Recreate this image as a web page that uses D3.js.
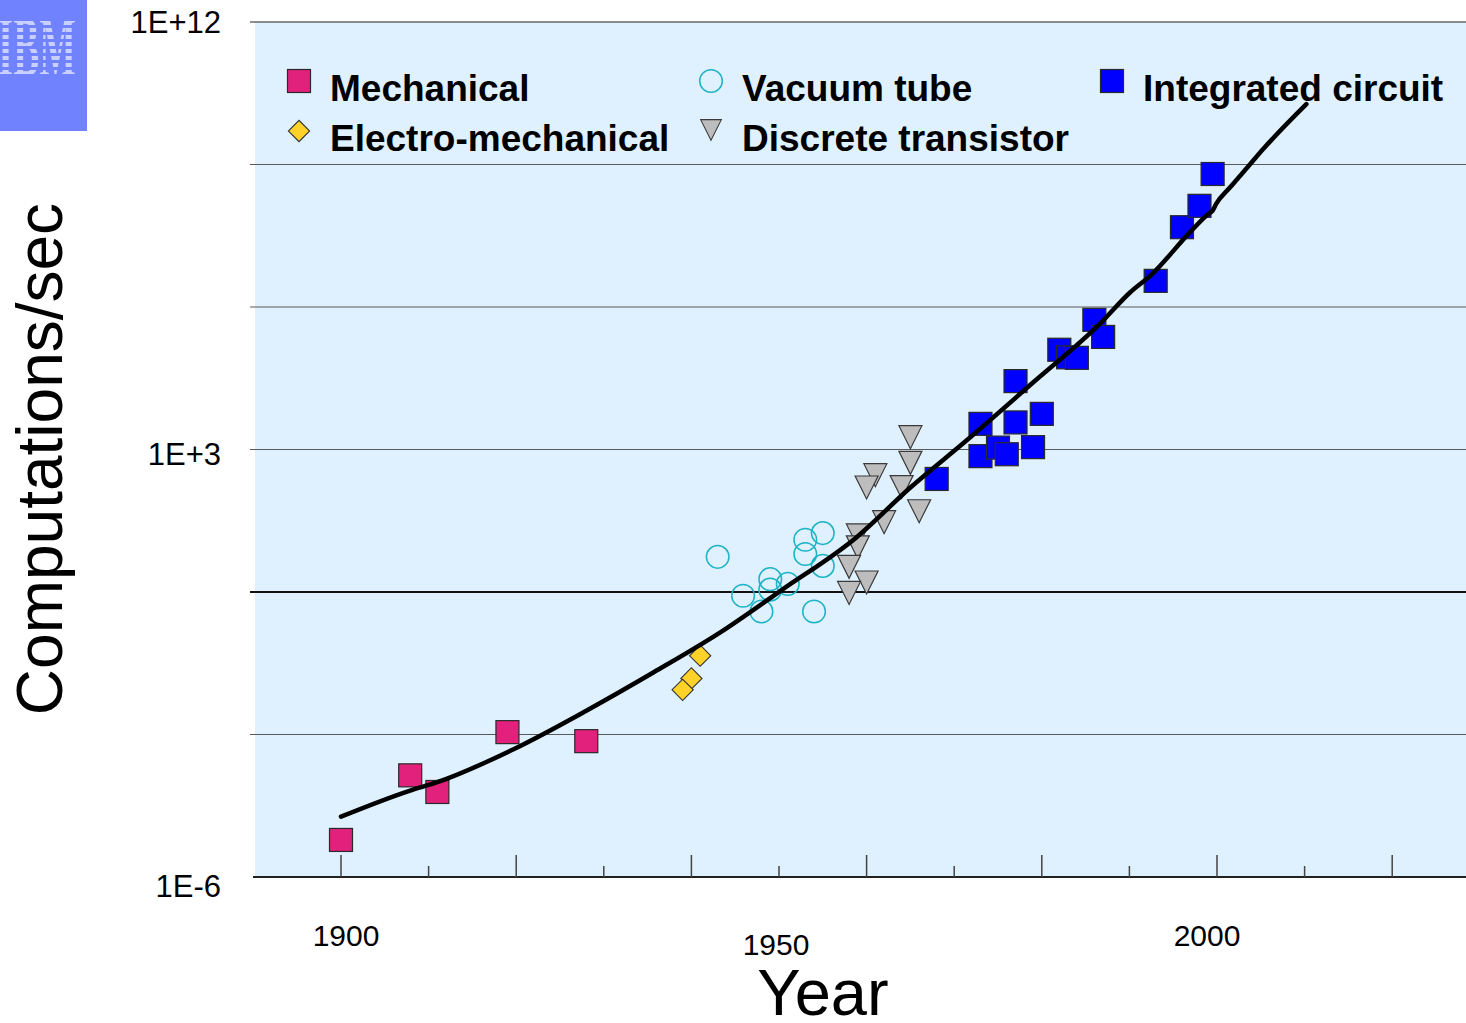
<!DOCTYPE html>
<html>
<head>
<meta charset="utf-8">
<script src="https://cdn.jsdelivr.net/npm/d3@7"></script>
<style>
  body { margin: 0; background: #fff; }
  svg { display: block; font-family: "Liberation Sans", Arial, sans-serif; }
</style>
</head>
<body>
<svg id="chart" width="1466" height="1023"></svg>
<script>
// values are log10(computations/sec)
const mechYears = [1900, 1907.9, 1911, 1919, 1928];
const mechExp = [-5.22, -3.86, -4.21, -2.95, -3.14];

const electroYears = [1941, 1940, 1939];
const electroExp = [-1.34, -1.82, -2.06];

const tubeYears = [1943, 1945.9, 1948, 1949, 1949, 1951, 1953, 1953, 1955, 1955, 1954];
const tubeExp = [0.74, -0.08, -0.41, 0.27, 0.05, 0.17, 1.10, 0.80, 1.24, 0.55, -0.41];

const transYears = [1965, 1965, 1961, 1960, 1964, 1966, 1962, 1959, 1959, 1958, 1960, 1958];
const transExp = [3.26, 2.72, 2.46, 2.20, 2.21, 1.70, 1.47, 1.19, 0.94, 0.53, 0.20, -0.02];

const icYears = [1968, 1973, 1973, 1975, 1976, 1977, 1977, 1979, 1980, 1982, 1983, 1984, 1986, 1987, 1993, 1996, 1998, 1999.5];
const icExp = [2.38, 3.54, 2.86, 3.04, 2.90, 4.44, 3.57, 3.05, 3.75, 5.10, 4.94, 4.93, 5.73, 5.37, 6.55, 7.68, 8.13, 8.80];

// trend curve
const trendYears = [1900, 1907.9, 1910.9, 1919.7, 1928, 1935.7, 1943.3, 1950.3, 1958.9, 1965, 1971.4, 1979, 1986.6, 1990.1, 1992.4, 1996.9, 1999.0, 1999.5, 1999.9, 2001.5, 2003.8, 2005.3, 2010.2];
const trendExp = [-4.73, -4.18, -4.01, -3.31, -2.50, -1.69, -0.85, 0.04, 1.16, 2.20, 3.19, 4.41, 5.64, 6.31, 6.66, 7.57, 7.96, 8.03, 8.17, 8.52, 9.01, 9.33, 10.27];

const gridExp = [-6, -3, 0, 3, 6, 9, 12];
const yLabels = [[12, "1E+12"], [3, "1E+3"], [-6, "1E-6"]];
const yLabelShift = [11, 15, 20];
const tickYears = d3.range(1900, 2021, 10);
const xLabels = [1900, 1950, 2000];
const xLabelShift = [[5, 0], [-3, 9], [-10, 0]];

const legendItems = [
  { name: "Mechanical", type: "mech", col: 0, row: 0 },
  { name: "Electro-mechanical", type: "electro", col: 0, row: 1 },
  { name: "Vacuum tube", type: "tube", col: 1, row: 0 },
  { name: "Discrete transistor", type: "trans", col: 1, row: 1 },
  { name: "Integrated circuit", type: "ic", col: 2, row: 0 }
];

const svg = d3.select("#chart");
const plotLeft = 255, plotRight = 1466, plotTop = 22, plotBottom = 877;

const x = d3.scaleLinear().domain([1900, 2000]).range([341, 1217]);
const y = d3.scaleLog().domain([1e-6, 1e12]).range([plotBottom, plotTop]);
const yv = e => y(Math.pow(10, e));

// logo block in the corner
const defs = svg.append("defs");
const pat = defs.append("pattern")
    .attr("id", "stripes")
    .attr("patternUnits", "userSpaceOnUse")
    .attr("width", 8).attr("height", 7);
pat.append("rect").attr("width", 8).attr("height", 4).attr("fill", "#c9d0ff");
svg.append("rect")
    .attr("x", 0).attr("y", 0).attr("width", 87).attr("height", 131)
    .attr("fill", "#7182ff");
svg.append("text")
    .attr("x", 37).attr("y", 76)
    .attr("text-anchor", "middle")
    .style("font-family", "'Liberation Serif', serif")
    .style("font-weight", "bold")
    .style("font-size", "86px")
    .attr("textLength", 78)
    .attr("lengthAdjust", "spacingAndGlyphs")
    .attr("fill", "url(#stripes)")
    .text("IBM");

// plot background
svg.append("rect")
    .attr("x", plotLeft).attr("y", plotTop)
    .attr("width", plotRight - plotLeft).attr("height", plotBottom - plotTop)
    .attr("fill", "#dff0fe");

// horizontal grid
svg.append("g").selectAll("line")
  .data(gridExp.filter(d => d > -6))
  .enter().append("line")
    .attr("x1", plotLeft - 5).attr("x2", plotRight)
    .attr("y1", d => yv(d)).attr("y2", d => yv(d))
    .attr("stroke", d => d === 0 ? "#111" : (d === 12 ? "#222" : "#5a5a5a"))
    .attr("stroke-width", d => d === 0 ? 2 : 1.2);

// x axis line and ticks
svg.append("line")
    .attr("x1", plotLeft - 2).attr("x2", plotRight)
    .attr("y1", plotBottom).attr("y2", plotBottom)
    .attr("stroke", "#222").attr("stroke-width", 2);

svg.append("g").selectAll("line")
  .data(tickYears)
  .enter().append("line")
    .attr("x1", d => x(d)).attr("x2", d => x(d))
    .attr("y1", d => (d % 20 === 0) ? plotBottom - 22 : plotBottom - 11)
    .attr("y2", plotBottom)
    .attr("stroke", "#444").attr("stroke-width", 1.5);

// axis labels
svg.append("g").selectAll("text")
  .data(yLabels)
  .enter().append("text")
    .attr("x", 221)
    .attr("y", (d, i) => yv(d[0]) + yLabelShift[i])
    .attr("text-anchor", "end")
    .style("font-size", "31px")
    .text(d => d[1]);

svg.append("g").selectAll("text")
  .data(xLabels)
  .enter().append("text")
    .attr("x", (d, i) => x(d) + xLabelShift[i][0])
    .attr("y", (d, i) => 946 + xLabelShift[i][1])
    .attr("text-anchor", "middle")
    .style("font-size", "30px")
    .text(d => d);

svg.append("text")
    .attr("x", 823).attr("y", 1015)
    .attr("text-anchor", "middle")
    .style("font-size", "65px")
    .text("Year");

svg.append("text")
    .attr("transform", "translate(62,459) rotate(-90)")
    .attr("text-anchor", "middle")
    .style("font-size", "64px")
    .text("Computations/sec");

// marker shapes
const sq = 23;
function drawMarker(g, type) {
  if (type === "mech" || type === "ic") {
    g.append("rect")
        .attr("x", -sq / 2).attr("y", -sq / 2)
        .attr("width", sq).attr("height", sq)
        .attr("fill", type === "mech" ? "#e2217c" : "#0000ff")
        .attr("stroke", "#2a2a2a").attr("stroke-width", 1.2);
  } else if (type === "electro") {
    g.append("rect")
        .attr("x", -7.5).attr("y", -7.5)
        .attr("width", 15).attr("height", 15)
        .attr("transform", "rotate(45)")
        .attr("fill", "#ffd22a")
        .attr("stroke", "#333").attr("stroke-width", 1.1);
  } else if (type === "tube") {
    g.append("circle")
        .attr("r", 11.3)
        .attr("fill", "none")
        .attr("stroke", "#1db4c6").attr("stroke-width", 1.5);
  } else {
    g.append("path")
        .attr("d", "M-11.5,-11.5L11.5,-11.5L0,11.5Z")
        .attr("fill", "#bdbdbd")
        .attr("stroke", "#3a3a3a").attr("stroke-width", 1.2);
  }
}

const series = [
  { type: "tube", years: tubeYears, exps: tubeExp },
  { type: "trans", years: transYears, exps: transExp },
  { type: "mech", years: mechYears, exps: mechExp },
  { type: "electro", years: electroYears, exps: electroExp },
  { type: "ic", years: icYears, exps: icExp }
];

series.forEach(function(s) {
  svg.append("g").selectAll("g")
    .data(s.years.map((yr, i) => [yr, s.exps[i]]))
    .enter().append("g")
      .attr("transform", d => "translate(" + x(d[0]) + "," + yv(d[1]) + ")")
      .each(function() { drawMarker(d3.select(this), s.type); });
});

// trend line on top of the markers
const trend = d3.line()
    .x(d => x(d[0]))
    .y(d => yv(d[1]))
    .curve(d3.curveMonotoneX);
svg.append("path")
    .datum(trendYears.map((yr, i) => [yr, trendExp[i]]))
    .attr("d", trend)
    .attr("fill", "none")
    .attr("stroke", "#000")
    .attr("stroke-width", 4.5)
    .attr("stroke-linecap", "round");

// legend
const colX = [299, 711, 1112];
const rowY = [81, 131];
const legend = svg.append("g").selectAll("g")
  .data(legendItems)
  .enter().append("g")
    .attr("transform", d => "translate(" + colX[d.col] + "," + rowY[d.row] + ")");
legend.each(function(d) {
  const g = d3.select(this).append("g");
  if (d.type === "trans") g.attr("transform", "translate(0,-1) scale(0.9)");
  drawMarker(g, d.type);
});
legend.append("text")
    .attr("x", 31).attr("y", 20)
    .style("font-size", "37px")
    .style("font-weight", "bold")
    .text(d => d.name);
</script>
</body>
</html>
